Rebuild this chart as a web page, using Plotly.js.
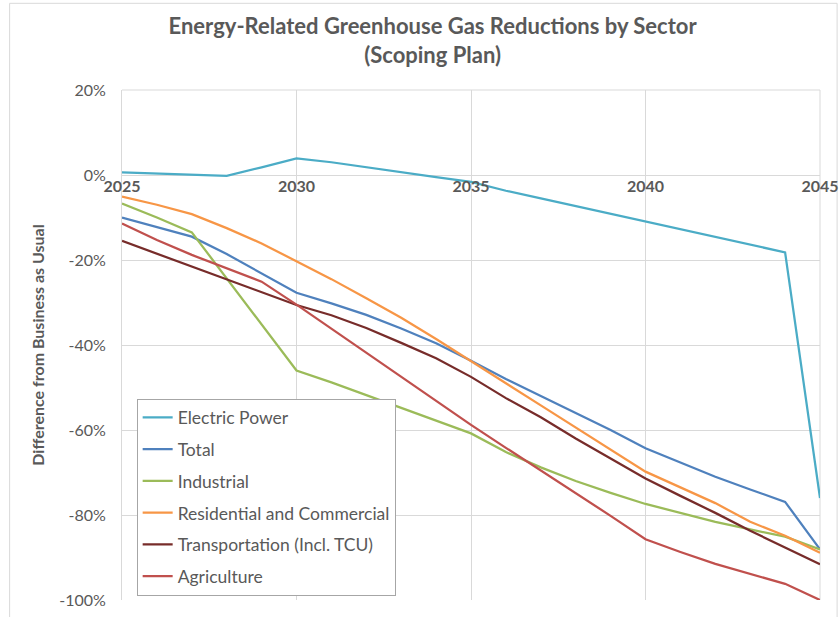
<!DOCTYPE html>
<html>
<head>
<meta charset="utf-8">
<script src="https://cdn.plot.ly/plotly-3.0.1.min.js"></script>
<style>html,body{margin:0;padding:0;background:#fff;}#chart{width:840px;height:617px;}</style>
</head>
<body>
<div id="chart"></div>
<script>
const years = [2025,2026,2027,2028,2029,2030,2031,2032,2033,2034,2035,2036,2037,2038,2039,2040,2041,2042,2043,2044,2045];
const electricPower = [0.6,0.3,0.1,-0.2,1.8,3.9,3.0,1.8,0.6,-0.5,-1.6,-3.7,-5.5,-7.3,-9.2,-11.0,-12.8,-14.6,-16.4,-18.2,-76.0];
const total = [-10.0,-12.2,-14.5,-18.6,-23.1,-27.7,-30.2,-32.9,-36.1,-39.6,-43.7,-48.0,-52.0,-56.0,-60.0,-64.3,-67.7,-71.0,-74.0,-76.9,-88.1];
const industrial = [-6.7,-10.0,-13.5,-24.3,-35.2,-46.0,-48.8,-51.8,-54.8,-57.8,-60.8,-65.2,-68.8,-72.0,-74.8,-77.4,-79.5,-81.6,-83.4,-85.1,-88.1];
const residential = [-5.1,-7.0,-9.2,-12.5,-16.1,-20.4,-24.5,-29.0,-33.6,-38.6,-43.9,-49.0,-54.2,-59.4,-64.6,-69.8,-73.5,-77.2,-81.6,-84.9,-88.9];
const transportation = [-15.5,-18.5,-21.5,-24.5,-27.5,-30.6,-33.0,-36.0,-39.5,-43.1,-47.5,-52.5,-57.0,-62.0,-66.7,-71.4,-75.5,-79.5,-83.7,-87.6,-91.6];
const agriculture = [-11.4,-15.3,-18.8,-22.0,-25.1,-30.5,-36.2,-41.8,-47.5,-53.1,-58.8,-64.2,-69.5,-74.8,-80.2,-85.7,-88.7,-91.5,-93.9,-96.2,-100.0];
const seriesNames = ["Electric Power","Total","Industrial","Residential and Commercial","Transportation (Incl. TCU)","Agriculture"];
const seriesColors = ["#4BACC6","#4F81BD","#9BBB59","#F79646","#772C2A","#C0504D"];
const seriesValues = [electricPower,total,industrial,residential,transportation,agriculture];
const yTickVals = [20,0,-20,-40,-60,-80,-100];
const yTickText = ["20%","0%","-20%","-40%","-60%","-80%","-100%"];
const xTickVals = [2025,2030,2035,2040,2045];

const FONT = "Lato, 'Open Sans', sans-serif";
const traces = seriesNames.map((n,i)=>({
  type:'scatter', mode:'lines', name:n, x:years, y:seriesValues[i],
  line:{color:seriesColors[i], width:2.25}, legendgroup:'g'+i, hoverinfo:'skip'
}));

const layout = {
  width:840, height:617,
  margin:{l:122, r:20, t:90, b:17, autoexpand:false},
  paper_bgcolor:'#fff', plot_bgcolor:'#fff',
  font:{family:FONT, color:'#595959'},
  title:{text:"<b>Energy-Related Greenhouse Gas Reductions by Sector</b><br><b>(Scoping Plan)</b>",
    font:{family:FONT, size:22, color:'#595959'}, x:0.515, xref:'container', xanchor:'center', y:1-34/617, yref:'container', yanchor:'top'},
  xaxis:{range:[2025,2045], tickvals:xTickVals, ticktext:xTickVals.map(v=>'<b>'+v+'</b>'),
    anchor:'free', position:100/120, showgrid:true, gridcolor:'#d9d9d9', gridwidth:1,
    showline:false, zeroline:false, ticks:'', tickfont:{size:16, color:'#595959', family:FONT}, fixedrange:true},
  yaxis:{range:[-100,20], tickvals:yTickVals, ticktext:yTickText, showgrid:true, gridcolor:'#d9d9d9', gridwidth:1,
    showline:true, linecolor:'#d9d9d9', linewidth:1, zeroline:false, ticks:'', ticklabelstandoff:12,
    tickfont:{size:16, color:'#595959', family:FONT},
    title:{text:'<b>Difference from Business as Usual</b>', font:{size:16, color:'#595959', family:FONT}, standoff:10}},
  showlegend:true,
  legend:{x:0.021, y:0.395, xanchor:'left', yanchor:'top', bgcolor:'#fff', bordercolor:'#a6a6a6', borderwidth:1,
    font:{size:17.5, color:'#595959', family:FONT}, tracegroupgap:6, traceorder:'grouped', itemwidth:30},
  shapes:[
    {type:'rect', xref:'paper', yref:'paper', x0:-0.161, x1:1.0245, y0:-0.04, y1:1.17, line:{color:'#d9d9d9', width:1}, fillcolor:'rgba(0,0,0,0)', layer:'below'},
    {type:'line', xref:'paper', yref:'paper', x0:1, x1:1, y0:0, y1:1, line:{color:'#d9d9d9', width:1}, layer:'below'},
    {type:'line', xref:'paper', yref:'paper', x0:0, x1:1, y0:1, y1:1, line:{color:'#d9d9d9', width:1}, layer:'below'}
  ]
};
Plotly.newPlot('chart', traces, layout, {staticPlot:true});
</script>
</body>
</html>
